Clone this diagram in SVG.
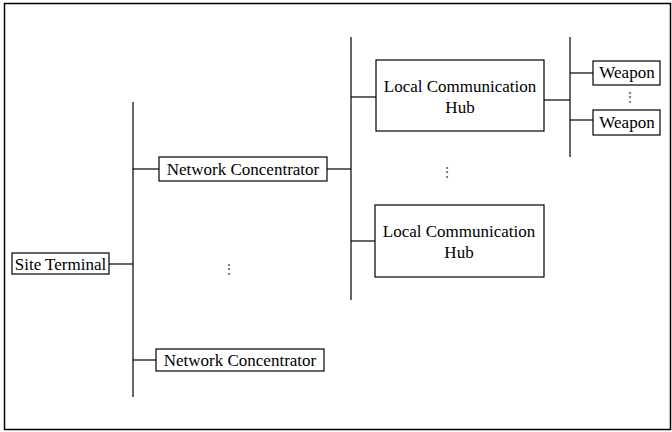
<svg xmlns="http://www.w3.org/2000/svg" width="672" height="432" viewBox="0 0 672 432">
<style>
.box{fill:#fff;stroke:#000;stroke-width:1.2}
.ln{stroke:#000;stroke-width:1.2;fill:none}
.t{font-family:"Liberation Serif","Times New Roman",serif;font-size:17px;fill:#000;text-anchor:middle}
.e{font-family:"Liberation Serif","Times New Roman",serif;font-size:14px;fill:#555;text-anchor:middle}
</style>
<rect x="0" y="0" width="672" height="432" fill="#fff"/>
<rect x="4.5" y="3.5" width="666" height="426" fill="none" stroke="#000" stroke-width="1.5"/>
<g id="connectors">
<line class="ln" x1="109" y1="264" x2="133" y2="264"/>
<line class="ln" x1="133" y1="102" x2="133" y2="397"/>
<line class="ln" x1="133" y1="169" x2="159" y2="169"/>
<line class="ln" x1="133" y1="360" x2="156" y2="360"/>
<line class="ln" x1="327" y1="169" x2="351" y2="169"/>
<line class="ln" x1="351" y1="37" x2="351" y2="300"/>
<line class="ln" x1="351" y1="97" x2="376" y2="97"/>
<line class="ln" x1="351" y1="241" x2="375" y2="241"/>
<line class="ln" x1="544" y1="100" x2="570" y2="100"/>
<line class="ln" x1="570" y1="37" x2="570" y2="157"/>
<line class="ln" x1="570" y1="73" x2="593" y2="73"/>
<line class="ln" x1="570" y1="120" x2="593" y2="120"/>
</g>
<g id="site-terminal">
<rect class="box" x="12" y="253" width="97" height="21"/>
<text class="t" x="60.5" y="269.5">Site Terminal</text>
</g>
<g id="nc1">
<rect class="box" x="159" y="157" width="168" height="24"/>
<text class="t" x="243" y="175">Network Concentrator</text>
</g>
<g id="nc2">
<rect class="box" x="156" y="349" width="168" height="22"/>
<text class="t" x="240" y="366">Network Concentrator</text>
</g>
<g id="lch1">
<rect class="box" x="376" y="60" width="168" height="71"/>
<text class="t" x="460" y="92">Local Communication</text>
<text class="t" x="460" y="113">Hub</text>
</g>
<g id="lch2">
<rect class="box" x="375" y="205" width="169" height="72"/>
<text class="t" x="459" y="237">Local Communication</text>
<text class="t" x="459" y="258">Hub</text>
</g>
<g id="weapon1">
<rect class="box" x="593" y="61" width="67" height="24"/>
<text class="t" x="627" y="78">Weapon</text>
</g>
<g id="weapon2">
<rect class="box" x="593" y="110" width="67" height="25"/>
<text class="t" x="627" y="128">Weapon</text>
</g>
<g id="ellipses">
<text class="e" x="229" y="274">⋮</text>
<text class="e" x="447" y="177">⋮</text>
<text class="e" x="630" y="102">⋮</text>
</g>
</svg>
